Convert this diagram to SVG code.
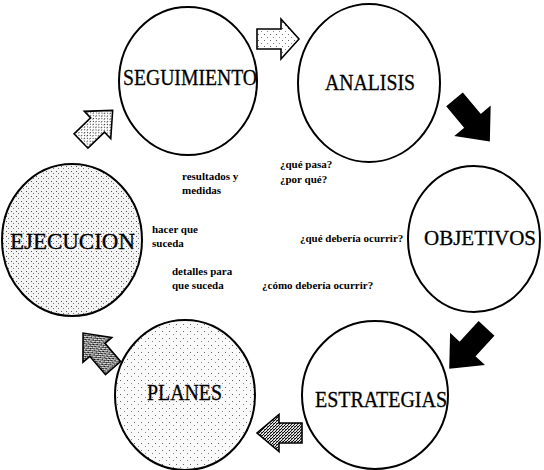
<svg xmlns="http://www.w3.org/2000/svg" width="544" height="470" viewBox="0 0 544 470">
<defs>
<pattern id="dotsLight" width="6" height="6" patternUnits="userSpaceOnUse">
<rect width="6" height="6" fill="#fff"/>
<rect x="1" y="1" width="1" height="1" fill="#666"/>
<rect x="4" y="4" width="1" height="1" fill="#888"/>
</pattern>
<pattern id="dotsMed" width="4" height="4" patternUnits="userSpaceOnUse">
<rect width="4" height="4" fill="#fff"/>
<rect x="0" y="0" width="1" height="1" fill="#333"/>
<rect x="2" y="2" width="1" height="1" fill="#333"/>
<rect x="3" y="0" width="1" height="1" fill="#999"/>
</pattern>
<pattern id="dotsCircleA" width="5" height="5" patternUnits="userSpaceOnUse">
<rect width="5" height="5" fill="#f4f4f4"/>
<rect x="1" y="1" width="1" height="1" fill="#555"/>
<rect x="3" y="3" width="1" height="1" fill="#777"/>
</pattern>
<pattern id="dotsCircleB" width="7" height="7" patternUnits="userSpaceOnUse">
<rect width="7" height="7" fill="#fafafa"/>
<rect x="1" y="2" width="1" height="1" fill="#666"/>
<rect x="5" y="5" width="1" height="1" fill="#888"/>
</pattern>
<pattern id="dotsDark" width="3" height="3" patternUnits="userSpaceOnUse">
<rect width="3" height="3" fill="#ddd"/>
<rect x="0" y="0" width="1" height="1" fill="#000"/>
<rect x="2" y="1" width="1" height="1" fill="#000"/>
<rect x="1" y="2" width="1" height="1" fill="#222"/>
<rect x="1" y="0" width="1" height="1" fill="#555"/>
</pattern>
</defs>
<style>
.c{stroke:#000;stroke-width:2;}
.big{font-family:"Liberation Serif","Times New Roman",serif;font-size:23px;fill:#000;stroke:#000;stroke-width:0.3;}
.sm{font-family:"Liberation Serif","Times New Roman",serif;font-size:11px;font-weight:bold;fill:#000;}
.ar{stroke:#000;stroke-width:1.6;stroke-linejoin:miter;}
</style>

<g id="connectors">
<path class="ar" fill="url(#dotsLight)" d="M0,-10 L24,-10 L24,-20 L42,0 L24,20 L24,10 L0,10 Z" transform="translate(257,39)"/>
<path class="ar" fill="#000" d="M0,-10 L28,-10 L28,-22 L53,0 L28,22 L28,10 L0,10 Z" transform="translate(455,100) rotate(50)"/>
<path class="ar" fill="#000" d="M0,-10 L28,-10 L28,-22 L53,0 L28,22 L28,10 L0,10 Z" transform="translate(486,329) rotate(132.7)"/>
<path class="ar" fill="url(#dotsDark)" d="M0,-10 L23,-10 L23,-18.5 L45,0 L23,18.5 L23,10 L0,10 Z" transform="translate(302,433) rotate(180)"/>
<path class="ar" fill="url(#dotsDark)" d="M0,-10 L24,-10 L24,-19 L46,0 L24,19 L24,10 L0,10 Z" transform="translate(113,368) rotate(229.4)"/>
<path class="ar" fill="url(#dotsMed)" d="M0,-10 L23,-10 L23,-19 L44,0 L23,19 L23,10 L0,10 Z" transform="translate(81,141) rotate(-44)"/>
</g>

<g id="seguimiento">
<ellipse class="c" cx="188" cy="81" rx="69" ry="74" fill="#fff"/>
<text class="big" x="123" y="85" textLength="134" lengthAdjust="spacingAndGlyphs">SEGUIMIENTO</text>
</g>
<g id="analisis">
<ellipse class="c" cx="369" cy="83" rx="71" ry="79" fill="#fff"/>
<text class="big" x="325" y="90" textLength="90" lengthAdjust="spacingAndGlyphs">ANALISIS</text>
</g>
<g id="objetivos">
<ellipse class="c" cx="474" cy="239" rx="66" ry="73" fill="#fff"/>
<text class="big" x="424" y="245" style="font-size:21px">OBJETIVOS</text>
</g>
<g id="estrategias">
<ellipse class="c" cx="375" cy="395" rx="73" ry="74" fill="#fff"/>
<text class="big" x="315" y="407" textLength="132" lengthAdjust="spacingAndGlyphs">ESTRATEGIAS</text>
</g>
<g id="planes">
<ellipse class="c" cx="185" cy="395" rx="70" ry="75" fill="url(#dotsCircleB)"/>
<text class="big" x="147" y="400" textLength="75" lengthAdjust="spacingAndGlyphs">PLANES</text>
</g>
<g id="ejecucion">
<ellipse class="c" cx="72" cy="240" rx="70" ry="76" fill="url(#dotsCircleA)"/>
<text class="big" x="10" y="249" textLength="125" lengthAdjust="spacingAndGlyphs">EJECUCION</text>
</g>

<g id="labels">
<text class="sm" x="182" y="180">resultados y</text>
<text class="sm" x="182" y="194">medidas</text>
<text class="sm" x="280" y="168">¿qué pasa?</text>
<text class="sm" x="280" y="183">¿por qué?</text>
<text class="sm" x="152" y="233">hacer que</text>
<text class="sm" x="152" y="247">suceda</text>
<text class="sm" x="300" y="242">¿qué debería ocurrir?</text>
<text class="sm" x="172" y="275">detalles para</text>
<text class="sm" x="172" y="289">que suceda</text>
<text class="sm" x="262" y="289">¿cómo debería ocurrir?</text>
</g>
</svg>
